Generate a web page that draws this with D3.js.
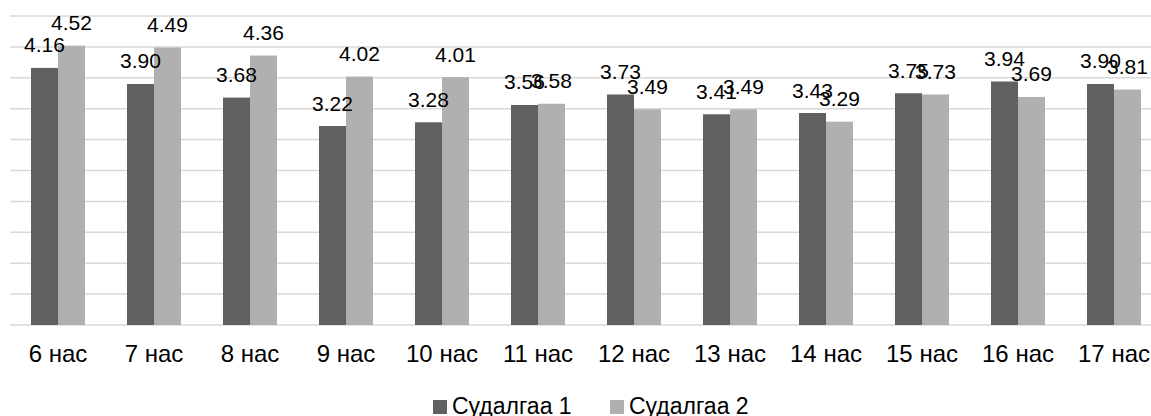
<!DOCTYPE html>
<html>
<head>
<meta charset="utf-8">
<script src="https://cdn.jsdelivr.net/npm/d3@7"></script>
<style>
  html, body { margin: 0; padding: 0; background: #fff; }
  svg { display: block; font-family: "Liberation Sans", Arial, sans-serif; }
</style>
</head>
<body>
<svg id="chart" width="1151" height="416"></svg>
<script>
const categories = ["6 нас", "7 нас", "8 нас", "9 нас", "10 нас", "11 нас", "12 нас", "13 нас", "14 нас", "15 нас", "16 нас", "17 нас"];
const seriesNames = ["Судалгаа 1", "Судалгаа 2"];
const series1 = [4.16, 3.90, 3.68, 3.22, 3.28, 3.56, 3.73, 3.41, 3.43, 3.75, 3.94, 3.90];
const series2 = [4.52, 4.49, 4.36, 4.02, 4.01, 3.58, 3.49, 3.49, 3.29, 3.73, 3.69, 3.81];
const yTicks = [0, 0.5, 1, 1.5, 2, 2.5, 3, 3.5, 4, 4.5, 5];
const colors = ["#606060", "#b0b0b0"];

const svg = d3.select("#chart");
const plotLeft = 10, plotRight = 1162, plotTop = 16, plotBottom = 325;

const x = d3.scaleBand().domain(categories).range([plotLeft, plotRight]).paddingInner(0.4375).paddingOuter(0.21875);
const xs = d3.scaleBand().domain(seriesNames).range([0, x.bandwidth()]).padding(0);
const y = d3.scaleLinear().domain([0, 5]).range([plotBottom, plotTop]);

// gridlines
svg.append("g").selectAll("line").data(yTicks).join("line")
  .attr("x1", plotLeft).attr("x2", 1151)
  .attr("y1", d => y(d)).attr("y2", d => y(d))
  .attr("stroke", "#d9d9d9").attr("stroke-width", 1.5);

const data = categories.map((c, i) => ({ c, vals: [series1[i], series2[i]] }));

const groups = svg.append("g").selectAll("g").data(data).join("g")
  .attr("transform", d => `translate(${x(d.c)},0)`);

groups.selectAll("rect").data(d => d.vals.map((v, k) => ({ v, k }))).join("rect")
  .attr("x", d => xs(seriesNames[d.k]))
  .attr("width", xs.bandwidth())
  .attr("y", d => y(d.v))
  .attr("height", d => y(0) - y(d.v))
  .attr("fill", d => colors[d.k]);

groups.selectAll("text").data(d => d.vals.map((v, k) => ({ v, k }))).join("text")
  .attr("x", d => xs(seriesNames[d.k]) + xs.bandwidth() / 2)
  .attr("y", d => y(d.v) - 15.5)
  .attr("text-anchor", "middle")
  .attr("font-size", 21)
  .attr("fill", "#000")
  .text(d => d.v.toFixed(2));

// category axis labels
svg.append("g").selectAll("text").data(categories).join("text")
  .attr("x", d => x(d) + x.bandwidth() / 2)
  .attr("y", 362)
  .attr("text-anchor", "middle")
  .attr("font-size", 24)
  .attr("fill", "#000")
  .text(d => d);

// legend
const legend = svg.append("g");
const legendX = [433, 610];
seriesNames.forEach((name, k) => {
  legend.append("rect").attr("x", legendX[k]).attr("y", 400).attr("width", 14).attr("height", 14).attr("fill", colors[k]);
  legend.append("text").attr("x", legendX[k] + 19).attr("y", 414).attr("font-size", 23).attr("fill", "#000").text(name);
});
</script>
</body>
</html>
